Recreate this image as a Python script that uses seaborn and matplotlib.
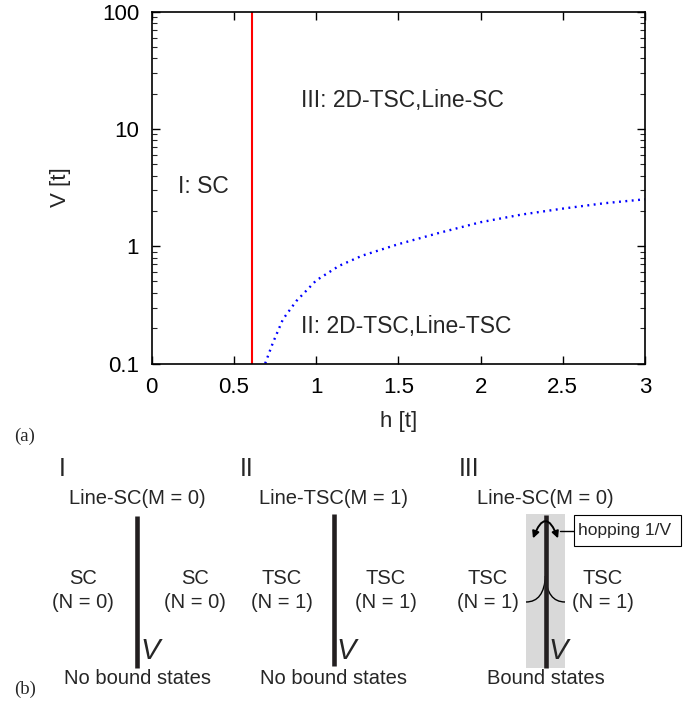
import numpy as np
import pandas as pd
import matplotlib
matplotlib.use("Agg")
import matplotlib.pyplot as plt
from matplotlib.patches import Rectangle, FancyArrowPatch, PathPatch
from matplotlib.path import Path
import seaborn as sns

# phase boundary values
h_boundary = 0.61
h_curve = [0.69, 0.737, 0.798, 0.879, 1.0, 1.14, 1.28, 1.5, 1.75, 2.0, 2.25, 2.5, 2.75, 3.0]
V_curve = [0.10, 0.150, 0.238, 0.340, 0.51, 0.68, 0.83, 1.04, 1.30, 1.60, 1.86, 2.09, 2.32, 2.51]
x_ticks = [0, 0.5, 1, 1.5, 2, 2.5, 3]
x_ticklabels = ["0", "0.5", "1", "1.5", "2", "2.5", "3"]
y_ticks = [0.1, 1, 10, 100]
y_ticklabels = ["0.1", "1", "10", "100"]

df = pd.DataFrame({"h": h_curve, "V": V_curve})

sns.set_theme(style="ticks")
plt.rcParams["font.family"] = ["Liberation Sans", "DejaVu Sans"]

W, H = 696, 705
fig = plt.figure(figsize=(W / 100, H / 100), dpi=100)

# ---- (a) phase diagram ----
ax = fig.add_axes([151.7 / W, 1 - 363.5 / H, (645 - 151.7) / W, (363.5 - 11.5) / H])
ax.axvline(h_boundary, color="red", lw=1.5)
sns.lineplot(data=df, x="h", y="V", ax=ax, color="blue", lw=1.7,
             linestyle=(0, (0.8, 1.9)), legend=False)
ax.set_yscale("log")
ax.set_xlim(0, 3)
ax.set_ylim(0.1, 100)
ax.set_xticks(x_ticks)
ax.set_xticklabels(x_ticklabels)
ax.set_yticks(y_ticks)
ax.set_yticklabels(y_ticklabels)
ax.tick_params(axis="both", which="major", direction="in", length=5.5, width=1,
               top=True, right=True, labelsize=16, colors="black")
ax.tick_params(axis="x", which="major", pad=10)
ax.tick_params(axis="y", which="major", pad=9)
ax.tick_params(axis="y", which="minor", direction="in", length=3.5, width=0.8,
               left=True, right=True)
ax.tick_params(axis="x", which="minor", bottom=False, top=False)
for s in ax.spines.values():
    s.set_linewidth(1.2)
    s.set_color("black")
ax.set_xlabel("h [t]", fontsize=16, labelpad=9)
ax.set_ylabel("V [t]", fontsize=16, labelpad=22)

ax.text(0.16, 3.23, "I: SC", fontsize=16.5, ha="left", va="center")
ax.text(0.905, 17.6, "III: 2D-TSC,Line-SC", fontsize=16.5, ha="left", va="center")
ax.text(0.909, 0.208, "II: 2D-TSC,Line-TSC", fontsize=16.5, ha="left", va="center")

# ---- (b) schematic, drawn in pixel coordinates ----
ax2 = fig.add_axes([0, 0, 1, 1])
ax2.set_xlim(0, W)
ax2.set_ylim(H, 0)
ax2.axis("off")

serif = ["Liberation Serif", "DejaVu Serif"]
ax2.text(24.5, 436, "(a)", fontsize=13.5, family=serif, ha="center", va="center")
ax2.text(25, 689, "(b)", fontsize=13.5, family=serif, ha="center", va="center")

panels = [
    dict(num="I", nx=62, cx=137, top="Line-SC(M = 0)", side="SC", n="(N = 0)",
         lx=83, rx=195, bottom="No bound states", y0=516, y1=668),
    dict(num="II", nx=247, cx=333.5, top="Line-TSC(M = 1)", side="TSC", n="(N = 1)",
         lx=282, rx=386, bottom="No bound states", y0=514, y1=666),
    dict(num="III", nx=469, cx=545.5, top="Line-SC(M = 0)", side="TSC", n="(N = 1)",
         lx=488, rx=603, bottom="Bound states", y0=515, y1=668),
]

bar_color = "#231f20"
for p in panels:
    ax2.text(p["nx"], 469, p["num"], fontsize=18, ha="center", va="center")
    ax2.text(p["cx"], 499, p["top"], fontsize=14.5, ha="center", va="center")
    ax2.plot([p["cx"], p["cx"]], [p["y0"], p["y1"]], color=bar_color, lw=3.3,
             solid_capstyle="butt", zorder=3)
    for x in (p["lx"], p["rx"]):
        ax2.text(x, 579, p["side"], fontsize=14.5, ha="center", va="center")
        ax2.text(x, 603, p["n"], fontsize=14.5, ha="center", va="center")
    ax2.text(p["cx"] + 13, 651, "V", fontsize=21, style="italic",
             ha="center", va="center")
    ax2.text(p["cx"], 679, p["bottom"], fontsize=14.5, ha="center", va="center")

# panel III extras
ax2.add_patch(Rectangle((526, 514), 39, 154, facecolor="#d9d9d9",
                        edgecolor="none", zorder=1))
ax2.add_patch(FancyArrowPatch((532, 541), (559, 541),
                              connectionstyle="arc3,rad=-1.4",
                              arrowstyle="<|-|>", mutation_scale=10,
                              lw=1.4, color="black", zorder=4))
ax2.plot([560, 574], [531, 531], color="black", lw=1)
ax2.add_patch(Rectangle((574, 515), 107, 31, facecolor="white",
                        edgecolor="black", lw=0.8, zorder=2))
ax2.text(578, 531, "hopping 1/V", fontsize=12.5, ha="left", va="center", zorder=3)

cusp = Path([(526, 602), (544, 602), (545.5, 576), (547, 602), (565, 602)],
            [Path.MOVETO, Path.CURVE3, Path.CURVE3, Path.CURVE3, Path.CURVE3])
ax2.add_patch(PathPatch(cusp, facecolor="none", edgecolor="black", lw=1, zorder=2))

fig.savefig("out.png", dpi=100)
